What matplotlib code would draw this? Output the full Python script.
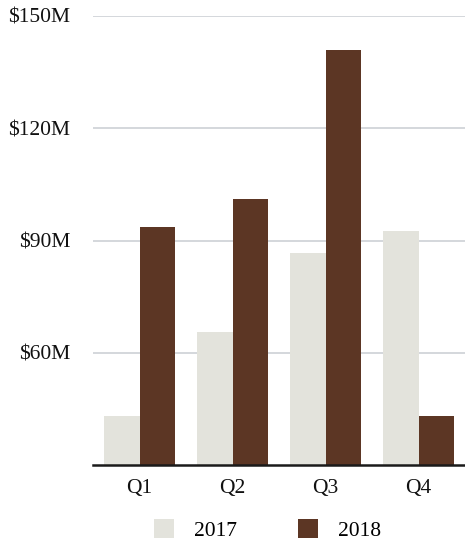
import numpy as np
import matplotlib
matplotlib.use("Agg")
import matplotlib.pyplot as plt
from matplotlib.ticker import FixedLocator

# quarterly revenue, $M
quarters = ["Q1", "Q2", "Q3", "Q4"]
years = ["2017", "2018"]
rev_2017 = [43.2, 65.6, 86.7, 92.5]
rev_2018 = [93.6, 101.1, 140.8, 43.2]
y_ticks = [60, 90, 120, 150]

colors = {"2017": "#e3e3dc", "2018": "#5c3624"}

plt.rcParams["font.family"] = ["Liberation Serif", "DejaVu Serif"]

fig = plt.figure(figsize=(4.65, 5.44), dpi=100)
ax = fig.add_axes([0.2, 0.1452, 0.8, 0.8254])

x = np.arange(len(quarters))
w = 0.385
ax.bar(x - w / 2, rev_2017, w, color=colors["2017"], label=years[0], zorder=2)
ax.bar(x + w / 2, rev_2018, w, color=colors["2018"], label=years[1], zorder=2)

ax.set_xlim(-0.5, 3.5)
ax.set_ylim(30, 150)
ax.yaxis.set_major_locator(FixedLocator(y_ticks))
ax.set_yticklabels(["$%dM" % v for v in y_ticks])
ax.set_xticks(x)
ax.set_xticklabels(quarters)

ax.grid(axis="y", color="#cdd1d5", linewidth=1.2, zorder=0)
for s in ["top", "right", "left"]:
    ax.spines[s].set_visible(False)
ax.spines["bottom"].set_color("#1a1a1a")
ax.spines["bottom"].set_linewidth(1.8)
ax.spines["bottom"].set_zorder(3)

ax.tick_params(axis="y", length=0, pad=16.5, labelsize=15.5, labelcolor="#111111")
ax.tick_params(axis="x", length=0, pad=10, labelsize=15.5, labelcolor="#111111")

ax.legend(loc="center", bbox_to_anchor=(0.469, -0.145), ncol=2,
          frameon=False, fontsize=15.5, handlelength=0.93, handleheight=0.93,
          handletextpad=0.93, columnspacing=2.8)

fig.savefig("out.png", dpi=100)
